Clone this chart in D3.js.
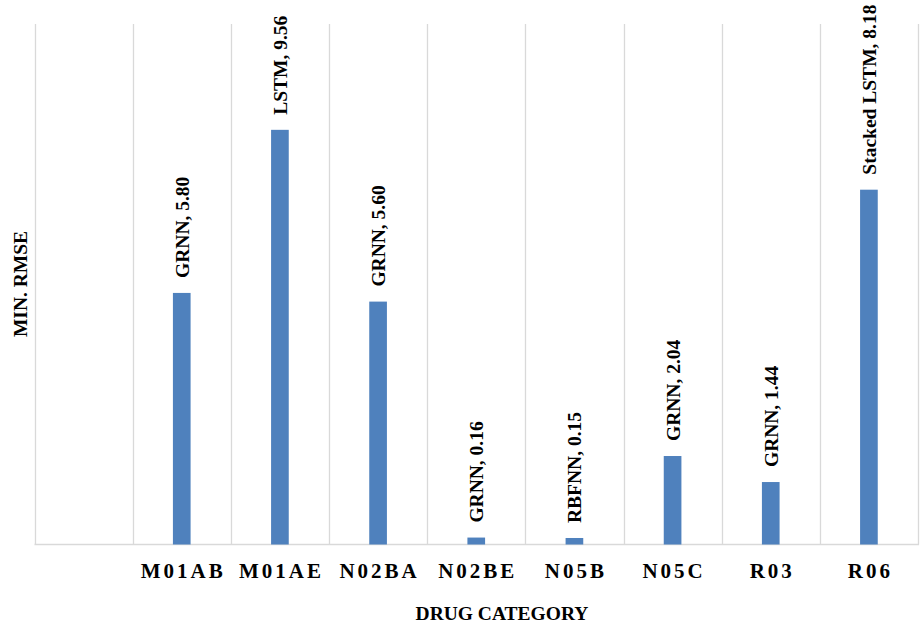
<!DOCTYPE html>
<html>
<head>
<meta charset="utf-8">
<script src="https://cdn.jsdelivr.net/npm/d3@7"></script>
<style>
  html, body { margin: 0; padding: 0; background: #fff; }
  svg { display: block; }
  text { font-family: "Liberation Serif", "Times New Roman", Times, serif; font-weight: bold; fill: #000; }
</style>
</head>
<body>
<svg id="chart" width="920" height="625"></svg>
<script>
// Drug categories (the first slot is an empty category)
const categories = ["", "M01AB", "M01AE", "N02BA", "N02BE", "N05B", "N05C", "R03", "R06"];
// Best model per category and its minimum RMSE
const models = [null, "GRNN", "LSTM", "GRNN", "GRNN", "RBFNN", "GRNN", "GRNN", "Stacked LSTM"];
const rmseValues = [null, 5.80, 9.56, 5.60, 0.16, 0.15, 2.04, 1.44, 8.18];
const yDomain = [0, 12];

const svg = d3.select("#chart");
const plot = { left: 34.5, right: 918, top: 24, bottom: 544.5 };

const x = d3.scaleBand()
  .domain(categories.map((c, i) => i))
  .range([plot.left, plot.right])
  .padding(0);

const y = d3.scaleLinear()
  .domain(yDomain)
  .range([plot.bottom, plot.top]);

const gridColor = "#d9d9d9";

// Vertical gridlines at category boundaries
const bounds = categories.map((c, i) => x(i)).concat([plot.right]);
svg.append("g")
  .selectAll("line")
  .data(bounds)
  .join("line")
  .attr("x1", d => Math.round(d) + 0.5)
  .attr("x2", d => Math.round(d) + 0.5)
  .attr("y1", plot.top)
  .attr("y2", plot.bottom)
  .attr("stroke", gridColor)
  .attr("stroke-width", 1.3);

// Category axis line
svg.append("line")
  .attr("x1", plot.left)
  .attr("x2", plot.right + 1)
  .attr("y1", plot.bottom)
  .attr("y2", plot.bottom)
  .attr("stroke", gridColor)
  .attr("stroke-width", 1.5);

const data = categories.map((c, i) => ({ i, cat: c, model: models[i], value: rmseValues[i] }))
  .filter(d => d.value != null);

const barW = x.bandwidth() * 0.18;

// Bars
svg.append("g")
  .selectAll("rect")
  .data(data)
  .join("rect")
  .attr("x", d => x(d.i) + x.bandwidth() / 2 - barW / 2)
  .attr("y", d => y(d.value))
  .attr("width", barW)
  .attr("height", d => y(0) - y(d.value))
  .attr("fill", "#4f81bd");

// Value labels, rotated above each bar
svg.append("g")
  .selectAll("text")
  .data(data)
  .join("text")
  .attr("transform", d => `translate(${x(d.i) + x.bandwidth() / 2 + 7},${y(d.value) - 15}) rotate(-90)`)
  .attr("text-anchor", "start")
  .style("font-size", "19.5px")
  .text(d => `${d.model}, ${d.value.toFixed(2)}`);

// Category tick labels
const spacing = 3;
svg.append("g")
  .selectAll("text")
  .data(categories.map((c, i) => ({ i, c })).filter(d => d.c))
  .join("text")
  .attr("x", d => x(d.i) + x.bandwidth() / 2 + spacing / 2)
  .attr("y", 578)
  .attr("text-anchor", "middle")
  .style("font-size", "21px")
  .style("letter-spacing", spacing + "px")
  .text(d => d.c);

// Axis titles
svg.append("text")
  .attr("x", 502)
  .attr("y", 620)
  .attr("text-anchor", "middle")
  .style("font-size", "19.5px")
  .text("DRUG CATEGORY");

svg.append("text")
  .attr("transform", "translate(27,284) rotate(-90)")
  .attr("text-anchor", "middle")
  .style("font-size", "19.5px")
  .text("MIN. RMSE");
</script>
</body>
</html>
